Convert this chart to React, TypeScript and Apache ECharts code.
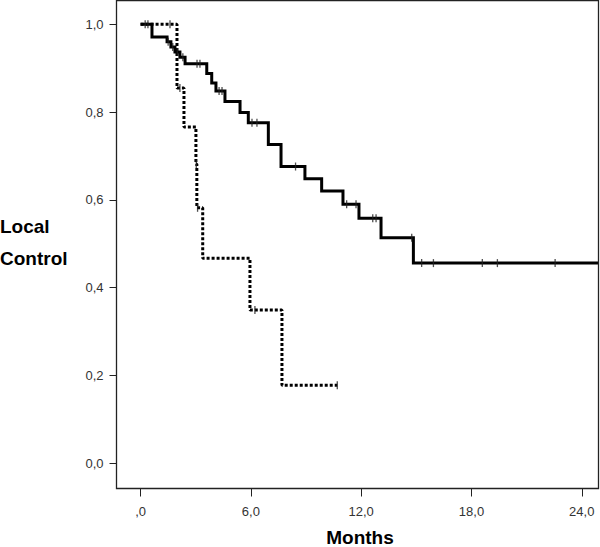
import React, { useEffect, useRef } from "react";
import * as echarts from "echarts";

// Group 1 (solid) Kaplan-Meier steps: time (months) and local control after each event
const solidTimes = [0, 0.62, 1.44, 1.65, 1.87, 2.14, 2.42, 3.6, 3.87, 4.1, 4.59, 5.41, 5.86, 6.95, 7.64, 8.94, 9.85, 11.01, 11.88, 13.08, 14.84, 24.91];
const solidSurv = [1.0, 0.971, 0.96, 0.948, 0.937, 0.925, 0.91, 0.888, 0.866, 0.848, 0.824, 0.799, 0.776, 0.726, 0.676, 0.648, 0.62, 0.59, 0.558, 0.514, 0.456, 0.456];
const solidCensored = [0.4, 1.5, 1.75, 2.0, 2.3, 3.07, 3.23, 4.27, 4.43, 6.06, 6.33, 8.43, 11.21, 11.72, 12.63, 12.81, 14.75, 15.29, 15.93, 18.59, 19.41, 22.55];

// Group 2 (dotted)
const dottedTimes = [0, 1.98, 2.36, 3.01, 3.06, 3.38, 5.95, 7.69, 10.7];
const dottedSurv = [1.0, 0.855, 0.766, 0.682, 0.582, 0.467, 0.349, 0.178, 0.178];
const dottedCensored = [0.25, 1.6, 2.14, 3.03, 3.1, 6.22, 10.7];

const xTicks = [0, 6, 12, 18, 24];
const yTicks = [0, 0.2, 0.4, 0.6, 0.8, 1.0];
const xRange = [-1.31, 24.91];
const yRange = [-0.0574, 1.0542];

const stepAt = (times: number[], surv: number[], t: number) => {
  let v = surv[0];
  for (let i = 0; i < times.length; i++) if (times[i] <= t) v = surv[i];
  return v;
};

const fmt = (v: number) => v.toFixed(1).replace(".", ",");

export default function App() {
  const ref = useRef<HTMLDivElement>(null);
  useEffect(() => {
    if (!ref.current) return;
    const chart = echarts.init(ref.current, undefined, { renderer: "svg" });
    const font = "'Liberation Sans', Arial, sans-serif";
    const markStyle = { color: "#222" };
    chart.setOption({
      animation: false,
      backgroundColor: "#fff",
      grid: { left: 116.5, right: 1.5, top: 0.5, bottom: 58.5 },
      xAxis: {
        type: "value",
        min: xRange[0],
        max: xRange[1],
        axisLine: { show: false, onZero: false },
        axisTick: { show: true, length: 8, customValues: xTicks, lineStyle: { color: "#222", width: 1 } },
        axisLabel: {
          margin: 16,
          fontSize: 13,
          fontFamily: font,
          color: "#333",
          customValues: xTicks,
          formatter: (v: number) => (v === 0 ? ",0" : fmt(v)),
        },
        splitLine: { show: false },
      },
      yAxis: {
        type: "value",
        min: yRange[0],
        max: yRange[1],
        axisLine: { show: false, onZero: false },
        axisTick: { show: true, length: 7, customValues: yTicks, lineStyle: { color: "#222", width: 1 } },
        axisLabel: {
          margin: 13,
          fontSize: 13,
          fontFamily: font,
          color: "#333",
          customValues: yTicks,
          formatter: (v: number) => fmt(v),
        },
        splitLine: { show: false },
      },
      graphic: [
        {
          type: "rect",
          shape: { x: 116.5, y: 0.5, width: 482, height: 488 },
          style: { fill: "none", stroke: "#222", lineWidth: 1.3 },
          z: 10,
        },
        {
          type: "text",
          x: 0,
          y: 217,
          style: { text: "Local", font: `bold 19px ${font}`, fill: "#000" },
        },
        {
          type: "text",
          x: 0,
          y: 249,
          style: { text: "Control", font: `bold 19px ${font}`, fill: "#000" },
        },
        {
          type: "text",
          x: 360,
          y: 528,
          style: { text: "Months", font: `bold 19px ${font}`, fill: "#000", align: "center" },
        },
      ],
      series: [
        {
          type: "line",
          step: "end",
          symbol: "none",
          data: solidTimes.map((t, i) => [t, solidSurv[i]]),
          lineStyle: { color: "#000", width: 3, join: "miter" },
          z: 3,
        },
        {
          type: "line",
          step: "end",
          symbol: "none",
          data: dottedTimes.map((t, i) => [t, dottedSurv[i]]),
          lineStyle: { color: "#000", width: 3, type: [3, 2], cap: "butt" },
          z: 2,
        },
        {
          type: "scatter",
          symbol: "rect",
          symbolSize: [1.3, 8],
          itemStyle: markStyle,
          data: solidCensored.map((t) => [t, stepAt(solidTimes, solidSurv, t)]),
          z: 4,
        },
        {
          type: "scatter",
          symbol: "rect",
          symbolSize: [1.3, 8],
          itemStyle: markStyle,
          data: dottedCensored.map((t) => [t, stepAt(dottedTimes, dottedSurv, t)]),
          z: 4,
        },
      ],
    });
    return () => chart.dispose();
  }, []);
  return <div ref={ref} style={{ position: "fixed", left: 0, top: 0, width: 600, height: 547 }} />;
}
